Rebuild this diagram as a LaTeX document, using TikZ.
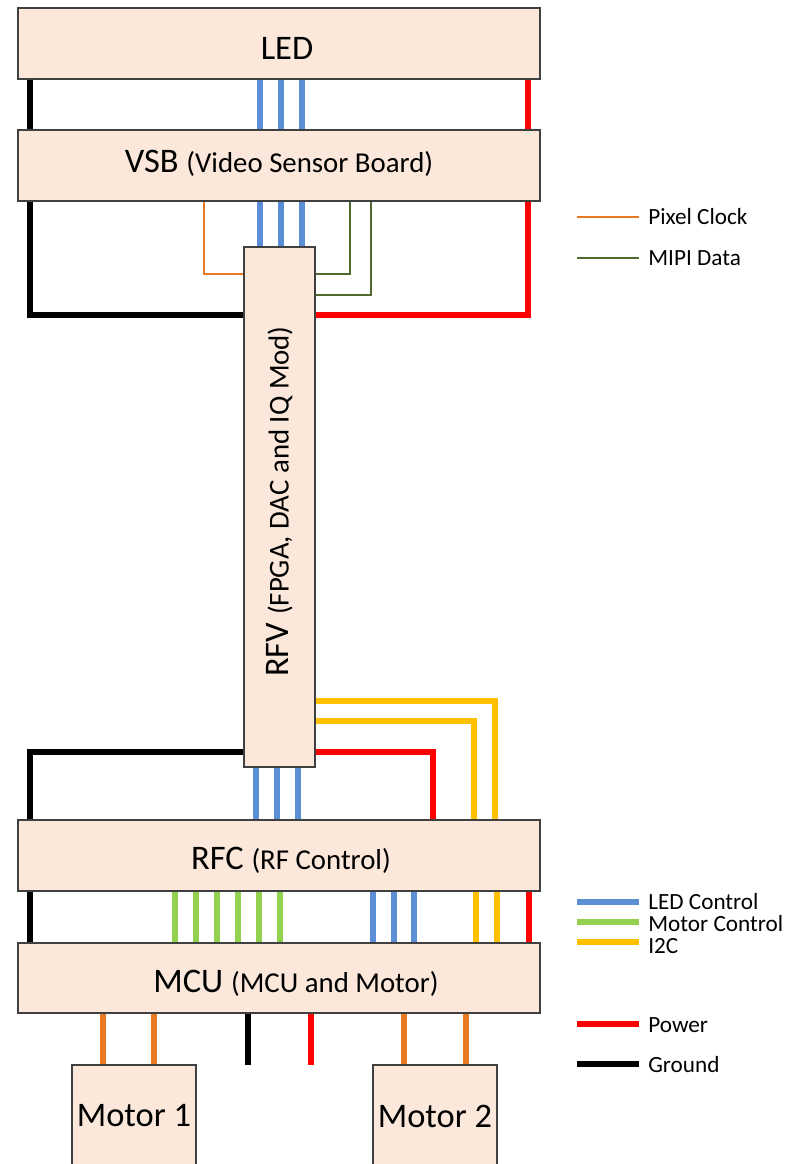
\documentclass[tikz,border=0pt]{standalone}
\usepackage{fontspec}
\setmainfont{Carlito}
\usetikzlibrary{positioning, calc}

\definecolor{boardfill}{RGB}{251,232,219}
\definecolor{ledblue}{RGB}{91,143,213}
\definecolor{motgreen}{RGB}{146,208,80}
\definecolor{i2cyellow}{RGB}{255,192,0}
\definecolor{pwrred}{RGB}{255,0,0}
\definecolor{clkorange}{RGB}{233,122,36}
\definecolor{mipigreen}{RGB}{80,106,48}

\newcommand{\mainsize}{\fontsize{19.6}{23}\selectfont}
\newcommand{\subsize}{\fontsize{16.4}{19}\selectfont}
\newcommand{\keysize}{\fontsize{13.2}{16}\selectfont}

\begin{document}
\begin{tikzpicture}[x=0.02cm, y=-0.02cm,
    board/.style={rectangle, draw=black!75, line width=0.7pt, fill=boardfill, minimum width=10.44cm, minimum height=1.42cm, inner sep=0pt, font=\mainsize},
    boardtext/.style={inner sep=0pt, font=\mainsize},
    wire/.style={line width=3.1pt},
    thinwire/.style={line width=1.6pt},
    gnd/.style={wire, black},
    pwr/.style={wire, pwrred},
    ledctl/.style={wire, ledblue},
    motctl/.style={wire, motgreen},
    i2c/.style={wire, i2cyellow},
    drive/.style={wire, clkorange},
    clk/.style={thinwire, clkorange},
    mipi/.style={thinwire, mipigreen},
    keytext/.style={anchor=west, inner sep=0pt, font=\keysize}]
    \useasboundingbox (0,0) rectangle (788,1164);

    % boards
    \node [board, label={[boardtext, shift={(8,5)}]center:LED}] (led) at (279,43.5) {};
    \node [board, label={[boardtext, shift={(0,-2)}]center:VSB {\subsize(Video Sensor Board)}}] (vsb) at (279,165.5) {};
    \node [board, minimum width=1.42cm, minimum height=10.4cm,
        label={[boardtext, rotate=90, shift={(5.5,0)}]center:{RFV {\subsize(FPGA, DAC and IQ Mod)}}}] (rfv) at (279.5,507) {};
    \node [board, label={[boardtext, shift={(12,5)}]center:RFC {\subsize(RF Control)}}] (rfc) at (279,855.5) {};
    \node [board, minimum height=1.4cm, label={[boardtext, shift={(17,5)}]center:MCU {\subsize(MCU and Motor)}}] (mcu) at (279,978) {};
    \node [board, minimum width=2.48cm, minimum height=2.04cm] (motor1) at (134,1116) {Motor 1};
    \node [board, minimum width=2.48cm, minimum height=2.04cm] (motor2) at (435,1116) {Motor 2};
    \coordinate (gndend) at (248,1065);
    \coordinate (pwrend) at (311,1065);

    % LED -- VSB
    \draw [gnd] (led.south -| 30,0) -- (vsb.north -| 30,0);
    \draw [pwr] (led.south -| 528,0) -- (vsb.north -| 528,0);
    \foreach \x in {260,281,302}
        \draw [ledctl] (led.south -| \x,0) -- (vsb.north -| \x,0);

    % VSB -- RFV
    \foreach \x in {260,281,302}
        \draw [ledctl] (vsb.south -| \x,0) -- (rfv.north -| \x,0);
    \draw [clk] (vsb.south -| 204,0) |- (rfv.west |- 0,274);
    \draw [mipi] (vsb.south -| 350,0) |- (rfv.east |- 0,274);
    \draw [mipi] (vsb.south -| 371,0) |- (rfv.east |- 0,295);
    \draw [gnd] (vsb.south -| 30,0) |- (rfv.west |- 0,315);
    \draw [pwr] (vsb.south -| 528,0) |- (rfv.east |- 0,315);

    % RFV -- RFC
    \draw [i2c] (rfv.east |- 0,701) -| (rfc.north -| 495,0);
    \draw [i2c] (rfv.east |- 0,721) -| (rfc.north -| 474,0);
    \draw [pwr] (rfv.east |- 0,752) -| (rfc.north -| 433,0);
    \draw [gnd] (rfv.west |- 0,752) -| (rfc.north -| 30,0);
    \foreach \x in {256,277,298}
        \draw [ledctl] (rfv.south -| \x,0) -- (rfc.north -| \x,0);

    % RFC -- MCU
    \draw [gnd] (rfc.south -| 30,0) -- (mcu.north -| 30,0);
    \foreach \x in {175,196,217,238,259,280}
        \draw [motctl] (rfc.south -| \x,0) -- (mcu.north -| \x,0);
    \foreach \x in {373,394,414}
        \draw [ledctl] (rfc.south -| \x,0) -- (mcu.north -| \x,0);
    \foreach \x in {476,497}
        \draw [i2c] (rfc.south -| \x,0) -- (mcu.north -| \x,0);
    \draw [pwr] (rfc.south -| 529,0) -- (mcu.north -| 529,0);

    % MCU -- motors
    \foreach \x in {103,154}
        \draw [drive] (mcu.south -| \x,0) -- (motor1.north -| \x,0);
    \foreach \x in {404,466}
        \draw [drive] (mcu.south -| \x,0) -- (motor2.north -| \x,0);
    \draw [gnd] (mcu.south -| gndend) -- (gndend);
    \draw [pwr] (mcu.south -| pwrend) -- (pwrend);

    % legend
    \foreach \y/\ty/\s/\t in {217/217/clk/Pixel Clock, 258/258/mipi/MIPI Data,
        902/902/ledctl/LED Control, 922/924/motctl/Motor Control, 942/946/i2c/I2C,
        1024/1025/pwr/Power, 1064/1065/gnd/Ground}
    {
        \draw [\s] (577,\y) -- (639,\y);
        \node [keytext] (key-\s) at (648,\ty) {\t};
    }
\end{tikzpicture}
\end{document}
